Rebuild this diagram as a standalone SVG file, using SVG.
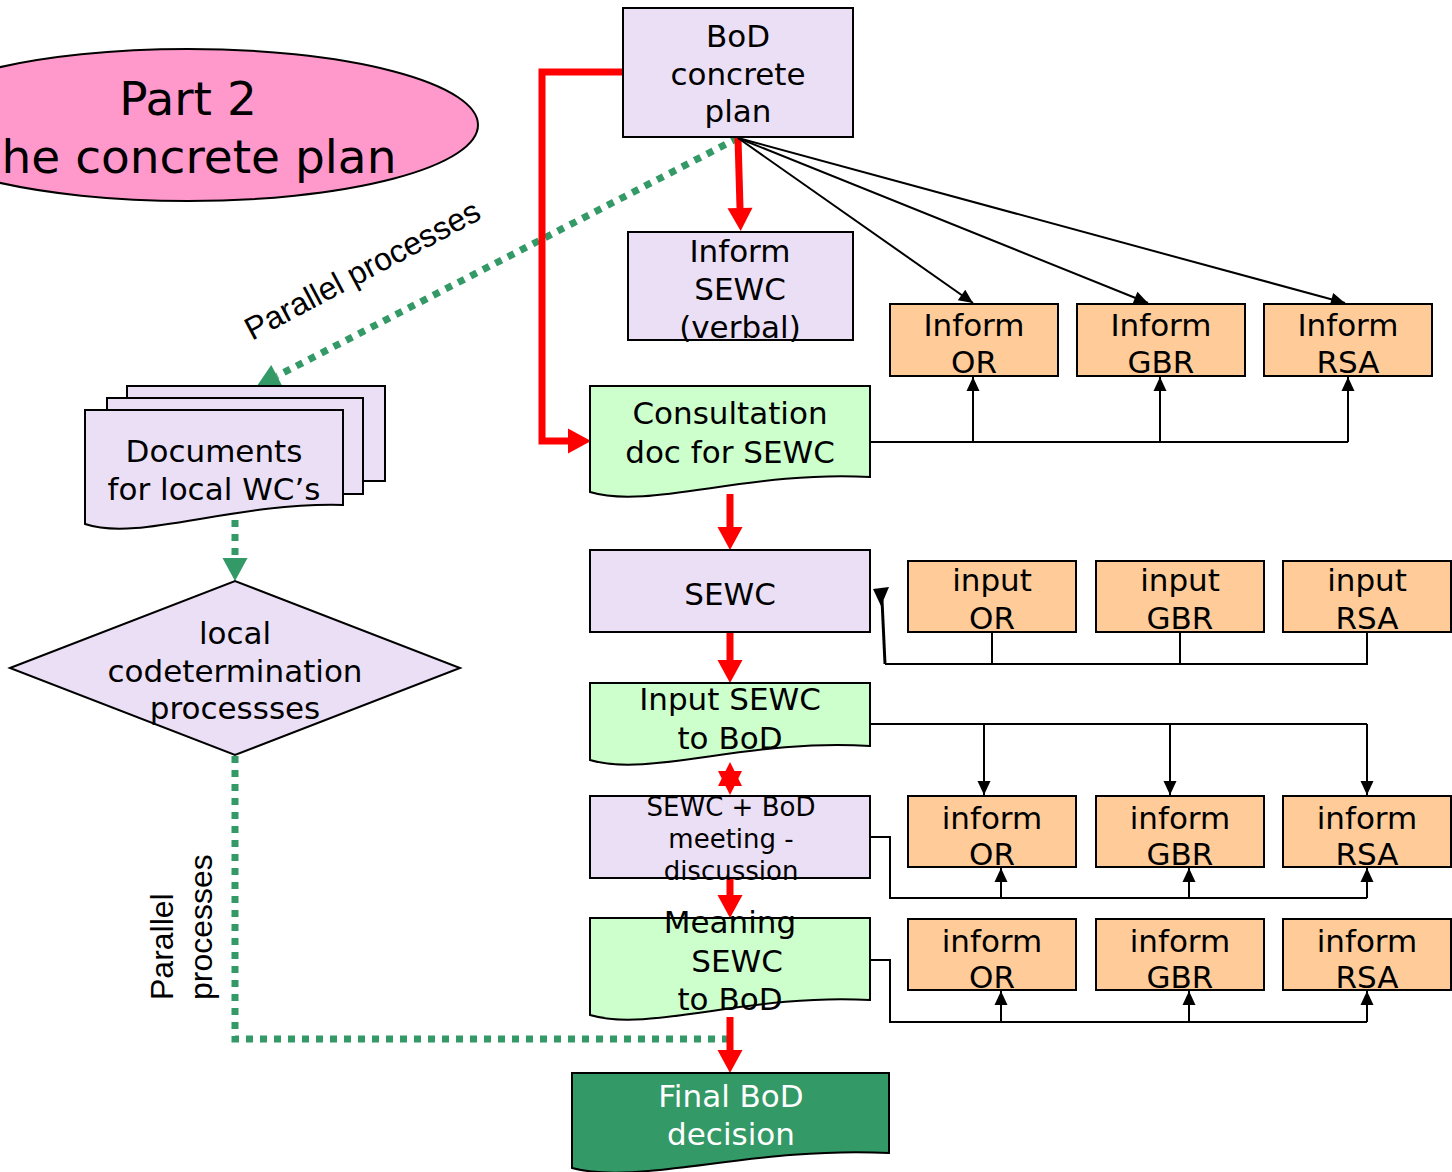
<svg xmlns="http://www.w3.org/2000/svg" width="1452" height="1172" viewBox="0 0 1452 1172">
<defs>
<marker id="redHead" markerUnits="userSpaceOnUse" markerWidth="24" markerHeight="26" refX="0" refY="12.5" orient="auto" overflow="visible">
<path d="M0,0 L23,12.5 L0,25 Z" fill="#FF0000"/>
</marker>
<marker id="blackHead" markerUnits="userSpaceOnUse" markerWidth="16" markerHeight="14" refX="14" refY="6.5" orient="auto" overflow="visible">
<path d="M0,0 L14,6.5 L0,13 Z" fill="#000"/>
</marker>
<marker id="greenHead" markerUnits="userSpaceOnUse" markerWidth="24" markerHeight="26" refX="0" refY="12.5" orient="auto" overflow="visible">
<path d="M0,0 L23,12.5 L0,25 Z" fill="#339966"/>
</marker>
</defs>
<style>
.lav{fill:#EBDFF5;stroke:#000;stroke-width:2}
.org{fill:#FFCC99;stroke:#000;stroke-width:2}
.doc{fill:#CCFFCC;stroke:#000;stroke-width:2}
.fin{fill:#339966;stroke:#000;stroke-width:2}
.t{font-family:"DejaVu Sans",Verdana,sans-serif;font-size:31px;fill:#000;text-anchor:middle}
.ts{font-family:"DejaVu Sans",Verdana,sans-serif;font-size:26px;fill:#000;text-anchor:middle}
.tw{font-family:"DejaVu Sans",Verdana,sans-serif;font-size:31px;fill:#fff;text-anchor:middle}
.tb{font-family:"DejaVu Sans",Verdana,sans-serif;font-size:47px;fill:#000;text-anchor:middle}
.ta{font-family:"Liberation Sans",Arial,sans-serif;font-size:32px;fill:#000}
.red{fill:none;stroke:#FF0000;stroke-width:7;marker-end:url(#redHead)}
.redl{fill:none;stroke:#FF0000;stroke-width:7}
.blk{fill:none;stroke:#000;stroke-width:2}
.blka{fill:none;stroke:#000;stroke-width:2;marker-end:url(#blackHead)}
.grn{fill:none;stroke:#339966;stroke-width:7;stroke-dasharray:7 7}
</style>
<rect width="1452" height="1172" fill="#fff"/>

<g id="title">
<ellipse cx="188" cy="125" rx="290" ry="76" fill="#FF99CC" stroke="#000" stroke-width="2"/>
<text class="tb" x="188" y="115">Part 2</text>
<text class="tb" x="199" y="173">he concrete plan</text>
</g>

<g id="connectors">
<path class="grn" d="M738,138 L277,376" marker-end="url(#greenHead)"/>
<path class="grn" d="M235,520 V558" marker-end="url(#greenHead)"/>
<path class="grn" d="M235,756 V1039 H730"/>
<path class="redl" d="M623,72 H542 V441 H568" marker-end="url(#redHead)"/>
<path class="red" d="M738,138 L740,208"/>
<path class="red" d="M730,494 V527"/>
<path class="red" d="M730,632 V660"/>
<polygon points="730,762 742,786 718,786" fill="#FF0000"/>
<polygon points="730,795 742,771 718,771" fill="#FF0000"/>
<path class="red" d="M730,878 V895"/>
<path class="red" d="M730,1017 V1050"/>
<path class="blka" d="M738,138 L973,303" stroke-width="1.5"/>
<path class="blka" d="M738,138 L1148,303" stroke-width="1.5"/>
<path class="blka" d="M738,138 L1345,303" stroke-width="1.5"/>
<path class="blk" d="M870,442 H1348"/>
<path class="blka" d="M973,442 V377"/>
<path class="blka" d="M1160,442 V377"/>
<path class="blka" d="M1348,442 V377"/>
<path class="blk" d="M992,632 V664 M1180,632 V664 M1367,632 V664 H885"/>
<path fill="none" stroke="#000" stroke-width="3" d="M885,664 L882,600"/>
<polygon points="873,589 889,587 881,606" fill="#000"/>
<path class="blk" d="M870,724 H1367"/>
<path class="blka" d="M984,724 V795"/>
<path class="blka" d="M1170,724 V795"/>
<path class="blka" d="M1367,724 V795"/>
<path class="blk" d="M870,837 H890 V898 H1367"/>
<path class="blka" d="M1001,898 V868"/>
<path class="blka" d="M1189,898 V868"/>
<path class="blka" d="M1367,898 V868"/>
<path class="blk" d="M870,960 H890 V1022 H1367"/>
<path class="blka" d="M1001,1022 V991"/>
<path class="blka" d="M1189,1022 V991"/>
<path class="blka" d="M1367,1022 V991"/>
</g>

<text class="ta" transform="translate(252,341) rotate(-28)">Parallel processes</text>
<text class="ta" transform="translate(173,1000) rotate(-90)">Parallel</text>
<text class="ta" transform="translate(212,1000) rotate(-90)">processes</text>

<g id="bod-plan">
<rect class="lav" x="623" y="8" width="230" height="129"/>
<text class="t" x="738" y="47">BoD</text>
<text class="t" x="738" y="85">concrete</text>
<text class="t" x="738" y="122">plan</text>
</g>

<g id="inform-sewc-verbal">
<rect class="lav" x="628" y="232" width="225" height="108"/>
<text class="t" x="740" y="262">Inform</text>
<text class="t" x="740" y="300">SEWC</text>
<text class="t" x="740" y="338">(verbal)</text>
</g>

<g id="inform-or-1">
<rect class="org" x="890" y="304" width="168" height="72"/>
<text class="t" x="974" y="336">Inform</text>
<text class="t" x="974" y="373">OR</text>
</g>
<g id="inform-gbr-1">
<rect class="org" x="1077" y="304" width="168" height="72"/>
<text class="t" x="1161" y="336">Inform</text>
<text class="t" x="1161" y="373">GBR</text>
</g>
<g id="inform-rsa-1">
<rect class="org" x="1264" y="304" width="168" height="72"/>
<text class="t" x="1348" y="336">Inform</text>
<text class="t" x="1348" y="373">RSA</text>
</g>

<g id="consultation-doc">
<path class="doc" d="M590,386 H870 V477 C750,470 649,510 590,492 Z"/>
<text class="t" x="730" y="424">Consultation</text>
<text class="t" x="730" y="463">doc for SEWC</text>
</g>

<g id="sewc">
<rect class="lav" x="590" y="550" width="280" height="82"/>
<text class="t" x="730" y="605">SEWC</text>
</g>

<g id="input-or">
<rect class="org" x="908" y="561" width="168" height="71"/>
<text class="t" x="992" y="591">input</text>
<text class="t" x="992" y="629">OR</text>
</g>
<g id="input-gbr">
<rect class="org" x="1096" y="561" width="168" height="71"/>
<text class="t" x="1180" y="591">input</text>
<text class="t" x="1180" y="629">GBR</text>
</g>
<g id="input-rsa">
<rect class="org" x="1283" y="561" width="168" height="71"/>
<text class="t" x="1367" y="591">input</text>
<text class="t" x="1367" y="629">RSA</text>
</g>

<g id="input-sewc-to-bod">
<path class="doc" d="M590,683 H870 V746 C750,738 649,778 590,760 Z"/>
<text class="t" x="730" y="710">Input SEWC</text>
<text class="t" x="730" y="749">to BoD</text>
</g>

<g id="inform-or-2">
<rect class="org" x="908" y="796" width="168" height="71"/>
<text class="t" x="992" y="829">inform</text>
<text class="t" x="992" y="865">OR</text>
</g>
<g id="inform-gbr-2">
<rect class="org" x="1096" y="796" width="168" height="71"/>
<text class="t" x="1180" y="829">inform</text>
<text class="t" x="1180" y="865">GBR</text>
</g>
<g id="inform-rsa-2">
<rect class="org" x="1283" y="796" width="168" height="71"/>
<text class="t" x="1367" y="829">inform</text>
<text class="t" x="1367" y="865">RSA</text>
</g>

<g id="sewc-bod-meeting">
<rect class="lav" x="590" y="796" width="280" height="82"/>
<text class="ts" x="731" y="816">SEWC + BoD</text>
<text class="ts" x="731" y="848">meeting -</text>
<text class="ts" x="731" y="880">discussion</text>
</g>

<g id="inform-or-3">
<rect class="org" x="908" y="919" width="168" height="71"/>
<text class="t" x="992" y="952">inform</text>
<text class="t" x="992" y="988">OR</text>
</g>
<g id="inform-gbr-3">
<rect class="org" x="1096" y="919" width="168" height="71"/>
<text class="t" x="1180" y="952">inform</text>
<text class="t" x="1180" y="988">GBR</text>
</g>
<g id="inform-rsa-3">
<rect class="org" x="1283" y="919" width="168" height="71"/>
<text class="t" x="1367" y="952">inform</text>
<text class="t" x="1367" y="988">RSA</text>
</g>

<g id="meaning-sewc">
<path class="doc" d="M590,918 H870 V1000 C750,993 649,1033 590,1015 Z"/>
<text class="t" x="730" y="933">Meaning</text>
<text class="t" x="737" y="972">SEWC</text>
<text class="t" x="730" y="1010">to BoD</text>
</g>

<g id="final-decision">
<path class="fin" d="M572,1073 H889 V1153 C753,1146 639,1186 572,1168 Z"/>
<text class="tw" x="731" y="1107">Final BoD</text>
<text class="tw" x="731" y="1145">decision</text>
</g>

<g id="documents-local">
<rect class="lav" x="127" y="386" width="258" height="95"/>
<rect class="lav" x="107" y="398" width="256" height="96"/>
<path class="lav" d="M85,410 H343 V505 C232,502 139,542 85,524 Z"/>
<text class="t" x="214" y="462">Documents</text>
<text class="t" x="214" y="500">for local WC’s</text>
</g>

<g id="local-codetermination">
<polygon class="lav" points="10,668 235,581 460,668 235,755"/>
<text class="t" x="235" y="644">local</text>
<text class="t" x="235" y="682">codetermination</text>
<text class="t" x="235" y="719">processses</text>
</g>
</svg>
